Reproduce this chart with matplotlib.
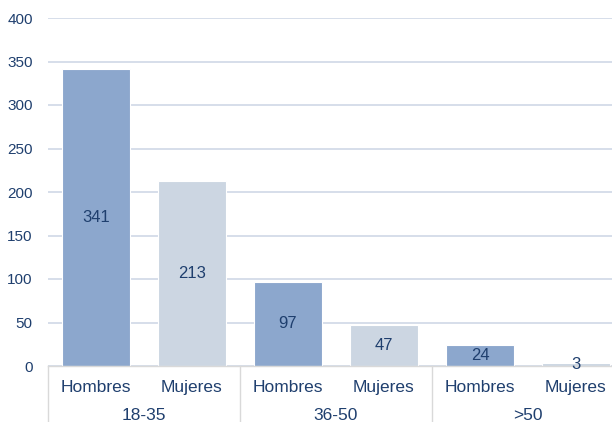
import numpy as np
import matplotlib.pyplot as plt
import matplotlib.transforms as mtransforms

plt.rcParams['font.family'] = ['Liberation Sans', 'DejaVu Sans']

grupos = ['18-35', '36-50', '>50']
sexos = ['Hombres', 'Mujeres']
hombres = [341, 97, 24]
mujeres = [213, 47, 3]

navy = '#1F3F6E'
col_h = '#8CA7CD'
col_m = '#CCD6E2'

valores = []
colores = []
etiquetas = []
for h, m in zip(hombres, mujeres):
    valores += [h, m]
    colores += [col_h, col_m]
    etiquetas += sexos
x = np.arange(len(valores))

fig = plt.figure(figsize=(6.12, 4.22), dpi=100)
ax = fig.add_axes([48 / 612, 56 / 422, 576 / 612, 348 / 422])

ax.set_axisbelow(True)
ax.yaxis.grid(True, color='#D6DEEA', linewidth=1.4)
bars = ax.bar(x, valores, width=0.71, color=colores, edgecolor='white', linewidth=0.8)

for xi, v in zip(x, valores):
    ax.text(xi, max(v / 2, 1.0), str(v), ha='center', va='center',
            fontsize=12, color=navy)

ax.set_xlim(-0.5, len(valores) - 0.5)
ax.set_ylim(0, 400)
ax.set_yticks(np.arange(0, 401, 50))
ax.tick_params(axis='y', length=0, pad=11, labelsize=11, labelcolor=navy)

for s in ['top', 'right', 'left']:
    ax.spines[s].set_visible(False)
ax.spines['bottom'].set_color('#D9D9D9')
ax.spines['bottom'].set_linewidth(1.0)

ax.set_xticks(x)
ax.set_xticklabels(etiquetas)
ax.tick_params(axis='x', length=0, pad=10, labelsize=12.5, labelcolor=navy)

# separadores entre grupos y etiquetas del segundo nivel
trans = mtransforms.blended_transform_factory(ax.transData, ax.transAxes)
for i in range(len(grupos) + 1):
    ax.plot([2 * i - 0.5, 2 * i - 0.5], [0, -56 / 348], transform=trans,
            color='#D9D9D9', linewidth=1.0, clip_on=False)
for i, g in enumerate(grupos):
    ax.text(2 * i + 0.5, -49 / 348, g, transform=trans, ha='center', va='center',
            fontsize=12.5, color=navy)

fig.savefig('out.png', dpi=100)
